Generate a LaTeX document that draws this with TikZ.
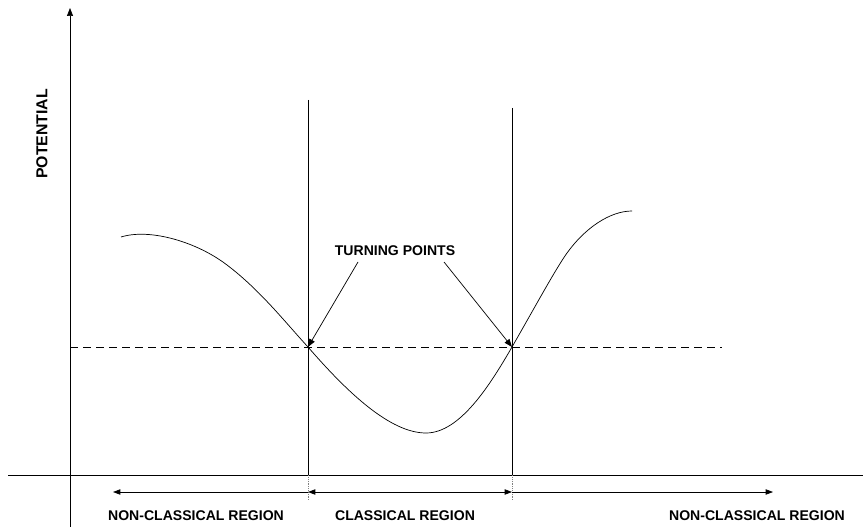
\documentclass[tikz,border=0pt]{standalone}
\usepackage{fontspec}
\setmainfont{Liberation Sans}
\usetikzlibrary{arrows.meta, positioning, calc}
\tikzset{
    axisline/.style={-{Triangle[length=2.4mm, width=1.8mm]}, line width=0.6pt},
    wallline/.style={-, line width=0.6pt},
    levelline/.style={-, line width=0.6pt, dash pattern=on 2.4mm off 1.5mm},
    potline/.style={-, line width=0.6pt},
    pointer/.style={-{Triangle[length=2.4mm, width=1.8mm]}, line width=0.6pt},
    regarrow/.style={line width=0.6pt},
    lbl/.style={font=\fontsize{12}{14}\selectfont\bfseries, inner sep=1pt},
}

\begin{document}
\begin{tikzpicture}[x=0.3mm, y=-0.3mm]
\useasboundingbox (0,0) rectangle (863,527);

% --- axes ---
\coordinate (yfoot) at (70,527);
\coordinate (ytip) at (70,8);
\coordinate (xstart) at (8,475);
\coordinate (xend) at (863,475);
\draw[axisline] (yfoot) -- (ytip);
\draw[wallline] (xstart) -- (xend);
\node[lbl, font=\fontsize{13.5}{16}\selectfont\bfseries, rotate=90] (pot) at (42,134) {POTENTIAL};

% --- turning points and walls ---
\coordinate (tpL) at (308,347);
\coordinate (tpR) at (512,347);
\coordinate (wallLtop) at (308,100);
\coordinate (wallRtop) at (512,108);
\coordinate (wallLfoot) at (308,475);
\coordinate (wallRfoot) at (512,475);
\coordinate (wallLend) at (308,500);
\coordinate (wallRend) at (512,500);
\draw[wallline] (wallLtop) -- (wallLfoot);
\draw[wallline] (wallRtop) -- (wallRfoot);
\draw[wallline, densely dotted, gray] (wallLfoot) -- (wallLend);
\draw[wallline, densely dotted, gray] (wallRfoot) -- (wallRend);

% energy level
\coordinate (lvlstart) at (70,347);
\coordinate (lvlend) at (722,347);
\draw[levelline] (lvlstart) -- (lvlend);

% potential curve
\draw[potline] (121,237) .. controls (150,228) and (197,242) .. (227,265)
    .. controls (260,290) and (285,322) .. (tpL)
    .. controls (347,392) and (390,433) .. (426,433)
    .. controls (460,433) and (490,385) .. (tpR)
    .. controls (535,307) and (555,270) .. (567,253)
    .. controls (585,228) and (610,211) .. (632,211);

% --- label with pointers ---
\node[lbl] (turn) at (395,251) {TURNING POINTS};
\draw[pointer] (358,262) -- (tpL);
\draw[pointer] (444,262) -- (tpR);

% --- regions ---
\coordinate (regL) at (113,492);
\coordinate (regML) at (308,492);
\coordinate (regMR) at (512,492);
\coordinate (regR) at (773,492);
\draw[regarrow, -{Triangle[length=2.2mm, width=1.6mm]}] (regML) -- (regL);
\draw[regarrow, {Triangle[length=2.2mm, width=1.6mm]}-{Triangle[length=2.2mm, width=1.6mm]}] (regML) -- (regMR);
\draw[regarrow, -{Triangle[length=2.2mm, width=1.6mm]}] (regMR) -- (regR);
\node[lbl] (ncL) at (196,516) {NON-CLASSICAL REGION};
\node[lbl] (cl) at (405,516) {CLASSICAL REGION};
\node[lbl] (ncR) at (757,516) {NON-CLASSICAL REGION};
\end{tikzpicture}
\end{document}
